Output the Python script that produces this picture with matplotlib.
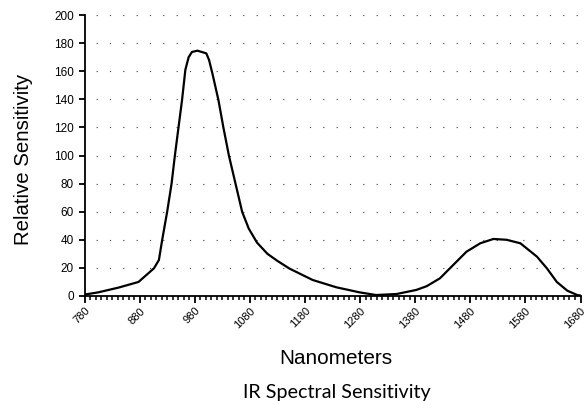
import matplotlib
matplotlib.use("Agg")
import matplotlib.pyplot as plt
from matplotlib.ticker import MultipleLocator

wavelength_nm = [780, 805, 842, 878, 906, 915, 921, 930, 938, 944, 957, 963,
                 969, 975, 985, 1001, 1006, 1012, 1023, 1032, 1042, 1054, 1066,
                 1078, 1093, 1112, 1130, 1152, 1194, 1237, 1279, 1309, 1346, 1382,
                 1401, 1425, 1443, 1473, 1498, 1522, 1546, 1571, 1601, 1619, 1637,
                 1656, 1674, 1680]
sensitivity = [1, 2.6, 6, 10, 19.7, 25.6, 40, 60, 80, 100, 139.5, 161,
               170, 173.7, 174.6, 172.7, 168, 158.5, 139.5, 120, 100, 80, 60,
               48, 38, 30, 25, 19.5, 11.4, 6.2, 2.6, 0.7, 1.4, 4.3,
               7, 12.6, 19.7, 31.5, 37.5, 40.6, 40, 37.5, 28, 19.7, 10,
               3.8, 0.7, 0.3]

x_ticks = list(range(780, 1681, 100))
y_ticks = list(range(0, 201, 20))

W, H = 584, 401
fig = plt.figure(figsize=(W / 100, H / 100), dpi=100)
ax_left, ax_right, ax_top, ax_bottom = 84.5, 580.5, 15, 296
ax = fig.add_axes([ax_left / W, 1 - ax_bottom / H,
                   (ax_right - ax_left) / W, (ax_bottom - ax_top) / H])
ax_w, ax_h = ax_right - ax_left, ax_bottom - ax_top

ax.plot(wavelength_nm, sensitivity, color="black", lw=1.6, solid_capstyle="round",
        solid_joinstyle="round", zorder=3)

ax.set_xlim(780, 1680)
ax.set_ylim(0, 200)
ax.set_xticks(x_ticks)
ax.set_xticklabels([str(v) for v in x_ticks], rotation=45, ha="right",
                   rotation_mode="anchor", fontsize=8, family="Liberation Sans")
ax.xaxis.set_minor_locator(MultipleLocator(10))
ax.set_yticks(y_ticks)
ax.set_yticklabels([str(v) for v in y_ticks], fontsize=8.5, family="Liberation Sans")

for s in ["top", "right"]:
    ax.spines[s].set_visible(False)
for s in ["left", "bottom"]:
    ax.spines[s].set_linewidth(1.3)

ax.tick_params(axis="x", which="major", direction="out", length=5, width=1.3, pad=2)
ax.tick_params(axis="x", which="minor", direction="out", length=3, width=1.1)
ax.tick_params(axis="y", which="major", direction="out", length=4.3, width=1.3, pad=3.3)

for yv in y_ticks[1:]:
    ax.axhline(yv, color="#444444", lw=0.8, ls=(2, (1, 11)), zorder=1)

ax.set_xlabel("Nanometers", fontsize=15, family="Liberation Sans")
ax.xaxis.set_label_coords((336 - ax_left) / ax_w, -(364 - ax_bottom) / ax_h)
ax.xaxis.label.set_va("baseline")

ax.set_ylabel("Relative Sensitivity", fontsize=15, family="Liberation Sans")
ax.yaxis.set_label_coords((33 - ax_left) / ax_w, (ax_bottom - 159) / ax_h)

title = fig.text(336.5 / W, 1 - 398 / H, "IR Spectral Sensitivity", ha="center",
                 va="baseline", fontsize=12, family="Lato")

# fit text sizes to the reference widths
renderer = fig.canvas.get_renderer()
for t, target, horiz in [(title, 187, True), (ax.xaxis.label, 114, True),
                         (ax.yaxis.label, 172, False)]:
    bb = t.get_window_extent(renderer)
    cur = bb.width if horiz else bb.height
    t.set_fontsize(t.get_fontsize() * target / cur)

fig.savefig("out.png", dpi=100)
